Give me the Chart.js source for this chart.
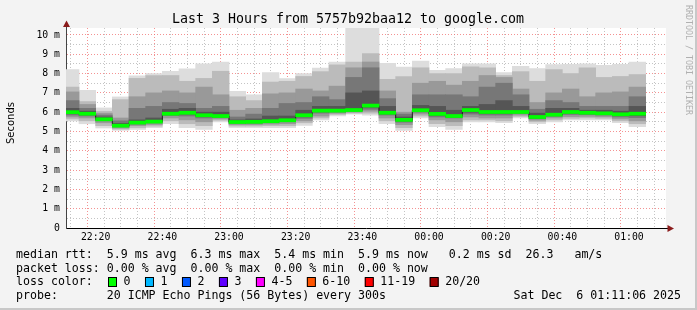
<!DOCTYPE html>
<html><head><meta charset="utf-8">
<script src="https://cdn.jsdelivr.net/npm/chart.js@4.4.0/dist/chart.umd.min.js"></script>
<style>html,body{margin:0;padding:0;background:#f3f3f3;}canvas{display:block;}</style>
</head><body>
<canvas id="c" width="697" height="310"></canvas>
<script>
// ---- data ----
const titleText = "Last 3 Hours from 5757b92baa12 to google.com";
const windowStart = "22:11:06";
const windowEnd = "01:11:06";
const binEnds = ["22:15","22:20","22:25","22:30","22:35","22:40","22:45","22:50","22:55",
  "23:00","23:05","23:10","23:15","23:20","23:25","23:30","23:35","23:40","23:45","23:50","23:55",
  "00:00","00:05","00:10","00:15","00:20","00:25","00:30","00:35","00:40","00:45","00:50","00:55",
  "01:00","01:05"];
const xTickLabels = ["22:20","22:40","23:00","23:20","23:40","00:00","00:20","00:40","01:00"];
const yTickLabels = ["0","1 m","2 m","3 m","4 m","5 m","6 m","7 m","8 m","9 m","10 m"];

// smoke: sorted ping ranges (ms), outermost to innermost, plus median
const pMin = [5.55,5.40,5.18,5.06,5.10,5.20,5.40,5.20,5.10,5.50,5.20,5.20,5.20,5.20,5.32,5.60,5.80,5.90,5.85,5.40,5.05,5.70,5.25,5.10,5.50,5.50,5.45,5.70,5.40,5.50,5.60,5.60,5.60,5.45,5.25];
const p2lo = [5.65,5.55,5.30,5.12,5.20,5.28,5.55,5.40,5.30,5.58,5.28,5.28,5.30,5.30,5.45,5.70,5.88,5.95,5.95,5.55,5.20,5.80,5.40,5.30,5.60,5.60,5.55,5.78,5.50,5.60,5.68,5.70,5.68,5.55,5.40];
const p3lo = [5.75,5.70,5.45,5.18,5.30,5.36,5.70,5.60,5.50,5.65,5.35,5.35,5.38,5.40,5.55,5.80,5.94,6.00,6.05,5.70,5.35,5.90,5.60,5.50,5.75,5.70,5.70,5.85,5.58,5.70,5.77,5.78,5.76,5.65,5.55];
const p4lo = [5.85,5.80,5.55,5.24,5.38,5.44,5.82,5.80,5.70,5.72,5.42,5.42,5.46,5.50,5.68,5.95,6.00,6.05,6.15,5.85,5.48,6.00,5.75,5.70,5.90,5.85,5.85,5.93,5.66,5.78,5.88,5.87,5.85,5.75,5.72];
const p5lo = [5.92,5.86,5.59,5.27,5.42,5.48,5.87,5.90,5.78,5.76,5.46,5.46,5.50,5.54,5.76,6.02,6.04,6.08,6.25,5.91,5.54,6.05,5.83,5.75,6.00,5.93,5.93,5.97,5.70,5.82,5.95,5.92,5.90,5.82,5.82];
const median = [6.00,5.92,5.63,5.30,5.46,5.51,5.92,5.97,5.84,5.80,5.49,5.50,5.53,5.58,5.84,6.08,6.08,6.11,6.34,5.97,5.60,6.10,5.91,5.80,6.11,6.01,6.01,6.01,5.75,5.87,6.01,5.97,5.94,5.89,5.92];
const p5hi = [6.20,6.05,5.75,5.42,5.60,5.70,6.15,6.20,6.00,6.00,5.60,5.65,5.80,5.80,6.10,6.30,6.30,7.00,7.10,6.30,5.75,6.35,6.30,6.10,6.30,6.40,6.60,6.30,5.95,6.20,6.20,6.10,6.10,6.05,6.30];
const p4hi = [6.60,6.20,5.85,5.55,6.20,6.30,6.50,6.45,6.20,6.30,5.75,5.90,6.20,6.45,6.50,6.80,6.65,7.80,8.30,6.70,5.90,6.90,6.90,6.90,6.80,7.30,7.50,6.90,6.15,6.60,6.50,6.30,6.30,6.30,6.80];
const p3hi = [7.05,6.40,5.95,5.70,6.80,7.00,7.10,7.00,7.30,6.90,6.10,6.20,6.95,7.00,7.20,7.10,7.35,8.30,8.60,7.10,6.00,7.50,7.60,7.40,7.60,7.90,7.80,7.20,6.50,7.00,7.20,6.80,7.00,7.05,7.30];
const p2hi = [7.30,6.55,6.05,6.65,7.75,7.90,7.90,7.60,7.75,8.12,6.80,6.60,7.56,7.60,7.85,8.10,8.45,8.60,9.03,7.70,7.85,8.30,8.00,8.00,8.35,8.30,7.90,8.10,7.60,8.20,8.00,8.30,7.80,7.85,7.95];
const pMax = [8.20,7.13,6.22,6.79,7.88,8.00,8.12,8.25,8.51,8.60,7.08,6.90,8.05,7.74,8.00,8.29,8.60,10.50,10.60,8.53,8.34,8.65,8.17,8.26,8.51,8.51,8.05,8.38,8.26,8.46,8.48,8.51,8.43,8.48,8.60];

const legendLines = [
  "median rtt:  5.9 ms avg  6.3 ms max  5.4 ms min  5.9 ms now   0.2 ms sd  26.3   am/s",
  "packet loss: 0.00 % avg  0.00 % max  0.00 % min  0.00 % now"
];
const lossLabels = ["0","1","2","3","4-5","6-10","11-19","20/20"];
const lossColors = ["#00ff00","#00b8ff","#0059ff","#5e00ff","#ff00ff","#ff5500","#ff0000","#a10000"];
const probeText = "probe:       20 ICMP Echo Pings (56 Bytes) every 300s";
const dateText = "Sat Dec  6 01:11:06 2025";

// ---- helpers ----
function toMin(s){
  const p = s.split(":").map(Number);
  let m = p[0]*60 + p[1] + (p[2]||0)/60 - 22*60;
  if (p[0] < 12) m += 1440;
  return m;
}
const BIN = 5;
const xTickMins = xTickLabels.map(toMin);
const yTop = 10.36;
const MONO = "'DejaVu Sans Mono', monospace";

const layerDefs = [
  {lo:pMin, hi:pMax, color:'#dddddd', order:7},
  {lo:p2lo, hi:p2hi, color:'#bbbbbb', order:6},
  {lo:p3lo, hi:p3hi, color:'#999999', order:5},
  {lo:p4lo, hi:p4hi, color:'#777777', order:4},
  {lo:p5lo, hi:p5hi, color:'#555555', order:3}
];
const datasets = layerDefs.map(L => ({
  type:'bar',
  data: binEnds.map((t,i)=>({x: toMin(t)-BIN/2, y:[L.lo[i], L.hi[i]]})),
  backgroundColor: L.color, borderWidth:0, order:L.order, grouped:false,
  barPercentage:1, categoryPercentage:1
}));
const stepPts = binEnds.map((t,i)=>({x: toMin(t)-BIN, y: median[i]}));
stepPts.push({x: toMin(binEnds[binEnds.length-1]), y: median[median.length-1]});
datasets.push({
  type:'line', data: stepPts, stepped:'before', borderColor:'#202020', borderWidth:1,
  pointRadius:0, fill:false, order:2
});
const MED_HALF = 0.08;
datasets.push({
  type:'bar',
  data: binEnds.map((t,i)=>({x: toMin(t)-BIN/2, y:[median[i]-MED_HALF, median[i]+MED_HALF]})),
  backgroundColor:'#00ff00', borderWidth:0, order:1, grouped:false,
  barPercentage:1, categoryPercentage:1
});

// grid positions every 5 minutes within window
const gridMins = [];
for (let v = Math.ceil(toMin(windowStart)/BIN)*BIN; v <= toMin(windowEnd); v += BIN) gridMins.push(v);
const gridHalf = [];
for (let v = 0; v <= 10; v += 0.5) gridHalf.push(v);

const deco = {
  id:'deco',
  beforeDraw(chart){
    const {ctx, chartArea:a} = chart;
    ctx.save();
    ctx.fillStyle = '#ffffff';
    ctx.fillRect(a.left, a.top, a.right-a.left, a.bottom-a.top);
    ctx.restore();
  },
  afterDraw(chart){
    const {ctx, chartArea:a} = chart;
    ctx.save();
    // axis extensions and arrows
    ctx.strokeStyle = '#000';
    ctx.lineWidth = 1;
    ctx.beginPath(); ctx.moveTo(a.right, 228.5); ctx.lineTo(670, 228.5); ctx.stroke();
    ctx.strokeStyle = '#444';
    ctx.beginPath(); ctx.moveTo(66.5, a.top); ctx.lineTo(66.5, 24); ctx.stroke();
    ctx.fillStyle = '#8b1c1c';
    ctx.beginPath(); ctx.moveTo(66.5, 20.5); ctx.lineTo(63, 27); ctx.lineTo(70, 27); ctx.closePath(); ctx.fill();
    ctx.beginPath(); ctx.moveTo(674, 228.5); ctx.lineTo(667.5, 225); ctx.lineTo(667.5, 232); ctx.closePath(); ctx.fill();

    // title
    ctx.fillStyle = '#000';
    ctx.font = "13.3px " + MONO;
    ctx.textAlign = 'center'; ctx.textBaseline = 'alphabetic';
    ctx.fillText(titleText, 348, 23);

    // y axis title
    ctx.save();
    ctx.translate(11, 123);
    ctx.rotate(-Math.PI/2);
    ctx.font = "10px 'DejaVu Sans', sans-serif";
    ctx.textAlign = 'center'; ctx.textBaseline = 'middle';
    ctx.fillText('Seconds', 0, 0);
    ctx.restore();

    // watermark
    ctx.save();
    ctx.translate(688, 5);
    ctx.rotate(Math.PI/2);
    ctx.font = "8.3px " + MONO;
    ctx.fillStyle = '#b0b0b0';
    ctx.textAlign = 'left'; ctx.textBaseline = 'middle';
    ctx.fillText('RRDTOOL / TOBI OETIKER', 0, 0);
    ctx.restore();

    // legend
    ctx.font = "11.6px " + MONO;
    ctx.fillStyle = '#000';
    ctx.textAlign = 'left'; ctx.textBaseline = 'middle';
    ctx.fillText(legendLines[0], 16, 254.5);
    ctx.fillText(legendLines[1], 16, 268.5);
    ctx.fillText('loss color:', 16, 282);
    let bx = 108;
    lossLabels.forEach((lab, i) => {
      ctx.fillStyle = lossColors[i];
      ctx.fillRect(bx, 277.5, 9, 9);
      ctx.strokeStyle = '#000'; ctx.lineWidth = 1;
      ctx.strokeRect(bx+0.5, 277.5, 8, 9);
      ctx.fillStyle = '#000';
      const lx = bx + 15.5;
      ctx.fillText(lab, lx, 282);
      bx = lx + ctx.measureText(lab).width + 14.5;
    });
    ctx.fillText(probeText, 16, 296);
    ctx.textAlign = 'right';
    ctx.fillText(dateText, 681, 296);

    // frame
    ctx.fillStyle = '#c8c8c8';
    ctx.fillRect(695, 0, 2, 310);
    ctx.fillRect(0, 308, 697, 2);
    ctx.restore();
  }
};

new Chart(document.getElementById('c'), {
  data: { datasets },
  options: {
    responsive:false, animation:false, devicePixelRatio:1,
    layout: { padding: { top:28, right:31, left:0, bottom:0 } },
    plugins: { legend:{display:false}, tooltip:{enabled:false}, title:{display:false} },
    scales: {
      x: {
        type:'linear', min: toMin(windowStart), max: toMin(windowEnd), offset:false, z:1,
        afterBuildTicks: s => { s.ticks = gridMins.map(v => ({value:v})); },
        afterFit: s => { s.height = 82; },
        ticks: {
          autoSkip:false, maxRotation:0, minRotation:0, padding:4, color:'#000',
          font:{family:MONO, size:9.8},
          callback: v => { const k = xTickMins.findIndex(m => Math.abs(m - v) < 0.01); return k >= 0 ? xTickLabels[k] : ''; }
        },
        grid: {
          drawTicks:false, lineWidth:1,
          color: c => (c.tick && xTickMins.some(m => Math.abs(m - c.tick.value) < 0.01)) ? 'rgba(240,110,110,0.75)' : 'rgba(190,190,190,0.9)'
        },
        border: { display:true, color:'#000', width:1, dash:[1,2] }
      },
      y: {
        type:'linear', min:0, max:yTop, z:1,
        afterBuildTicks: s => { s.ticks = gridHalf.map(v => ({value:v})); },
        afterFit: s => { s.width = 66; },
        ticks: {
          autoSkip:false, padding:6, color:'#000', font:{family:MONO, size:9.8},
          callback: v => Number.isInteger(v) ? yTickLabels[v] : ''
        },
        grid: {
          drawTicks:false, lineWidth:1,
          color: c => (c.tick && Number.isInteger(c.tick.value)) ? 'rgba(240,110,110,0.75)' : 'rgba(190,190,190,0.9)'
        },
        border: { display:true, color:'#444', width:1, dash:[1,2] }
      }
    }
  },
  plugins: [deco]
});
</script>
</body></html>
